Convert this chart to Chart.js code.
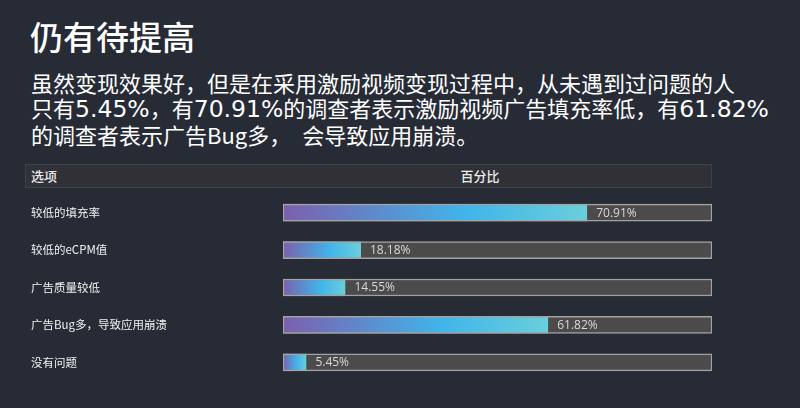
<!DOCTYPE html>
<html lang="zh-CN">
<head>
<meta charset="utf-8">
<title>仍有待提高</title>
<script src="https://cdn.jsdelivr.net/npm/chart.js@4.4.1/dist/chart.umd.min.js"></script>
<style>
    html, body {
        margin: 0;
        padding: 0;
        width: 800px;
        height: 408px;
        overflow: hidden;
        background: #262b36;
        font-family: "Noto Sans CJK SC", "Noto Sans", sans-serif;
        color: #fff;
    }
    #title {
        position: absolute;
        left: 30px;
        top: 20px;
        font-size: 33px;
        line-height: 33px;
        font-weight: 500;
        white-space: nowrap;
    }
    #intro {
        position: absolute;
        left: 31px;
        top: 70px;
        font-size: 22px;
        line-height: 25px;
        white-space: nowrap;
    }
    /* цифры в абзаце шире, чем латиница CJK-шрифта */
    #intro .num {
        font-family: "DejaVu Sans", sans-serif;
        font-size: 23.5px;
    }
    #table-head {
        position: absolute;
        left: 25px;
        top: 164px;
        width: 685px;
        height: 22px;
        background: #2f3137;
        border: 1px solid #3d4048;
        font-size: 13px;
        line-height: 22px;
        color: #ececec;
        font-weight: 500;
    }
    #table-head .col-name {
        position: absolute;
        left: 5px;
    }
    #table-head .col-pct {
        position: absolute;
        left: 424px;
        width: 60px;
        text-align: center;
    }
    #chart-box {
        position: absolute;
        left: 0;
        top: 187px;
        width: 800px;
        height: 201px;
    }
</style>
</head>
<body>
<div id="title">仍有待提高</div>
<div id="intro">
    虽然变现效果好，但是在采用激励视频变现过程中，从未遇到过问题的人<br>
    只有<span class="num">5.45%</span>，有<span class="num">70.91%</span>的调查者表示激励视频广告填充率低，有<span class="num">61.82%</span><br>
    的调查者表示广告Bug多，　会导致应用崩溃。
</div>
<div id="table-head">
    <span class="col-name">选项</span>
    <span class="col-pct">百分比</span>
</div>
<div id="chart-box"><canvas id="chart"></canvas></div>

<script>
// ─── Данные ─────────────────────────────────────────────────────────────────

const categories = [
    "较低的填充率",
    "较低的eCPM值",
    "广告质量较低",
    "广告Bug多，导致应用崩溃",
    "没有问题",
];
const percentValues = [70.91, 18.18, 14.55, 61.82, 5.45];
const trackMax = 100;

// ─── Градиент на каждую полосу (фиолетовый → голубой → бирюзовый) ──────────

function barGradient(context) {
    const chart = context.chart;
    if (!chart.chartArea) return "#42b4e8";
    const xScale = chart.scales.x;
    const x0 = xScale.getPixelForValue(0);
    const x1 = xScale.getPixelForValue(context.raw);
    if (x1 - x0 < 1) return "#7d62ad";
    const g = chart.ctx.createLinearGradient(x0, 0, x1, 0);
    g.addColorStop(0, "#7c5fae");
    g.addColorStop(0.6, "#40b5e9");
    g.addColorStop(1, "#6acfdc");
    return g;
}

// Подписи процентов справа от конца полосы
const valueLabels = {
    id: "valueLabels",
    afterDatasetsDraw(chart) {
        const meta = chart.getDatasetMeta(0);
        const ctx = chart.ctx;
        ctx.save();
        ctx.font = "12px 'Open Sans', sans-serif";
        ctx.fillStyle = "#dadada";
        ctx.textAlign = "left";
        ctx.textBaseline = "middle";
        meta.data.forEach((bar, i) => {
            ctx.fillText(`${percentValues[i].toFixed(2)}%`, bar.x + 9, bar.y + 0.5);
        });
        ctx.restore();
    },
};

new Chart(document.getElementById("chart"), {
    type: "bar",
    data: {
        labels: categories,
        datasets: [
            {
                label: "百分比",
                data: percentValues,
                backgroundColor: barGradient,
                borderColor: "rgba(165,165,165,0.85)",
                borderWidth: {top: 1.5, bottom: 1.5, left: 1.5, right: 0},
                borderSkipped: false,
                barThickness: 17,
                grouped: false,
            },
            {
                label: "track",
                data: categories.map(() => trackMax),
                backgroundColor: "#4c4a4a",
                borderColor: "#a2a2a2",
                borderWidth: 1.5,
                borderSkipped: false,
                barThickness: 17,
                grouped: false,
            },
        ],
    },
    options: {
        indexAxis: "y",
        responsive: true,
        maintainAspectRatio: false,
        animation: false,
        layout: {padding: {left: 31, right: 88, top: 0, bottom: 0}},
        scales: {
            x: {display: false, min: 0, max: trackMax},
            y: {
                grid: {display: false, drawTicks: false},
                border: {display: false},
                ticks: {
                    crossAlign: "far",
                    padding: 0,
                    color: "#f0f0f0",
                    font: {family: "'Noto Sans CJK SC', sans-serif", size: 11.5},
                },
                afterFit(scale) {
                    scale.width = 252;
                },
            },
        },
        plugins: {
            legend: {display: false},
            tooltip: {enabled: false},
        },
    },
    plugins: [valueLabels],
});
</script>
</body>
</html>
